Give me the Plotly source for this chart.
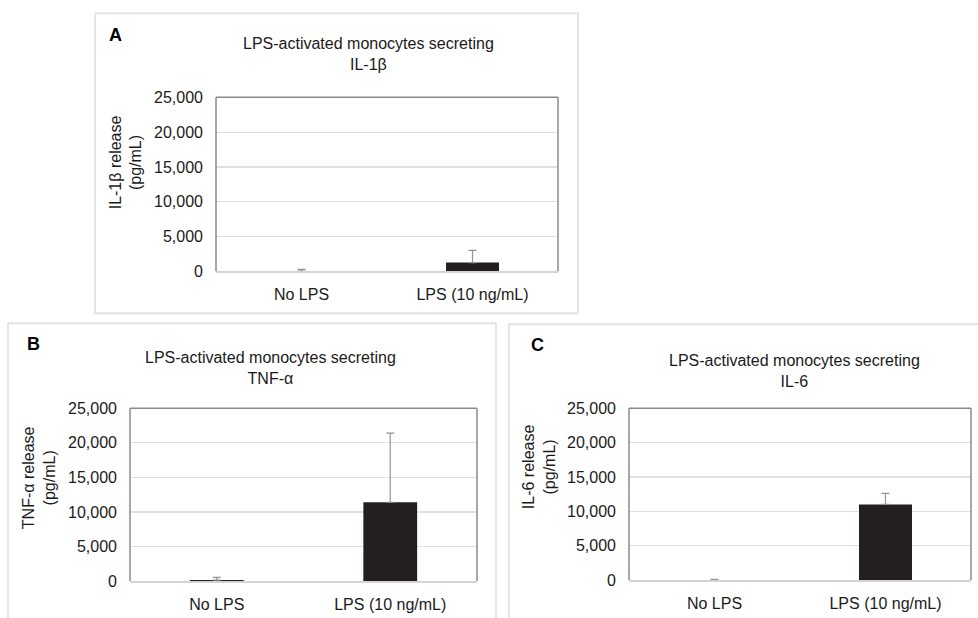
import plotly.graph_objects as go

W, H = 978, 618
# empirical vertical mapping of the photographed page: shown_y = 7.6 + 0.973 * figure_y
VOFF, VSCALE = 7.6, 0.973

categories = ["No LPS", "LPS (10 ng/mL)"]

il1b_mean = [20, 1250]
il1b_err = [250, 1750]

tnfa_mean = [150, 11400]
tnfa_err = [400, 10000]

il6_mean = [20, 11000]
il6_err = [100, 1600]

y_ticks = [0, 5000, 10000, 15000, 20000, 25000]

panel_letters = ["A", "B", "C"]
panel_titles = [
    "LPS-activated monocytes secreting<br>IL-1β",
    "LPS-activated monocytes secreting<br>TNF-α",
    "LPS-activated monocytes secreting<br>IL-6",
]
y_titles = [
    "IL-1β release<br>(pg/mL)",
    "TNF-α release<br>(pg/mL)",
    "IL-6 release<br>(pg/mL)",
]

FONT = "Liberation Sans, Arial, sans-serif"
TXT = "#1a1a1a"


def px_x(p):
    return p / W


def px_y(p):
    return 1 - ((p - VOFF) / VSCALE) / H


# plot areas in pixels: (left, right, top, bottom)
areas = [
    (216, 558, 97, 271),
    (130, 477, 408, 581),
    (629, 971, 408, 580),
]
# panel boxes in pixels
boxes = [
    (95, 578, 13, 313),
    (8, 496, 323, 660),
    (509, 1000, 324, 660),
]
# title center x, top of text block y
title_pos = [(368, 33), (270, 347), (794, 350)]
letter_pos = [(115, 35), (33, 344), (537, 345)]
ytitle_pos = [(126, 162), (39, 478), (539, 467)]

means = [il1b_mean, tnfa_mean, il6_mean]
errs = [il1b_err, tnfa_err, il6_err]

fig = go.Figure()
shapes = []
annotations = []

for i in range(3):
    sfx = "" if i == 0 else str(i + 1)
    xa = "x" + sfx
    ya = "y" + sfx
    fig.add_trace(go.Bar(
        x=categories, y=means[i], xaxis=xa, yaxis=ya,
        width=0.31,
        marker=dict(color="#231f20", line=dict(width=0)),
        error_y=dict(type="data", array=errs[i], arrayminus=[0, 0], symmetric=False,
                     color="#949494", thickness=1.2, width=4),
        showlegend=False,
    ))
    l, r, t, b = areas[i]
    fig.update_layout(**{
        ("xaxis" + sfx): dict(
            domain=[px_x(l), px_x(r)], anchor=ya, range=[-0.5, 1.5],
            showgrid=False, showline=True, linecolor="#d4d4d4", linewidth=1.5,
            ticks="", tickfont=dict(family=FONT, size=16, color=TXT),
            ticklabelstandoff=8, fixedrange=True,
        ),
        ("yaxis" + sfx): dict(
            domain=[px_y(b), px_y(t)], anchor=xa, range=[0, 25000],
            tickvals=y_ticks, tickformat=",",
            showgrid=True, gridcolor="#e0e0e0", gridwidth=1.2,
            zeroline=False, showline=False, ticks="",
            tickfont=dict(family=FONT, size=16, color=TXT),
            ticklabelstandoff=12, fixedrange=True,
        ),
    })
    # plot-area frame: left, top, right
    for (x0, y0, x1, y1) in [(0, 0, 0, 1), (0, 1, 1, 1), (1, 0, 1, 1)]:
        shapes.append(dict(type="line", xref=xa + " domain", yref=ya + " domain",
                           x0=x0, y0=y0, x1=x1, y1=y1,
                           line=dict(color="#8a8a8a", width=1.5)))
    bl, br, bt, bb = boxes[i]
    shapes.append(dict(type="rect", xref="paper", yref="paper",
                       x0=px_x(bl), x1=px_x(br), y0=px_y(bb), y1=px_y(bt),
                       line=dict(color="#e3e3e3", width=1.8), layer="below"))
    tx, ty = title_pos[i]
    annotations.append(dict(xref="paper", yref="paper", x=px_x(tx), y=px_y(ty),
                            text=panel_titles[i], showarrow=False, xanchor="center",
                            yanchor="top", align="center",
                            font=dict(family=FONT, size=16, color=TXT)))
    lx, ly = letter_pos[i]
    annotations.append(dict(xref="paper", yref="paper", x=px_x(lx), y=px_y(ly),
                            text="<b>" + panel_letters[i] + "</b>", showarrow=False,
                            xanchor="center", yanchor="middle",
                            font=dict(family=FONT, size=18, color="#000000")))
    yx, yy = ytitle_pos[i]
    annotations.append(dict(xref="paper", yref="paper", x=px_x(yx), y=px_y(yy),
                            text=y_titles[i], showarrow=False, textangle=-90,
                            xanchor="center", yanchor="middle", align="center",
                            font=dict(family=FONT, size=16, color=TXT)))

fig.update_layout(
    width=W, height=H,
    margin=dict(l=0, r=0, t=0, b=0),
    paper_bgcolor="white", plot_bgcolor="white",
    shapes=shapes, annotations=annotations,
    bargap=0.5,
)

fig.write_html(
    "out.html",
    config={"displayModeBar": False, "staticPlot": True},
    post_script="document.body.style.margin='0';document.body.style.overflow='hidden';",
)
